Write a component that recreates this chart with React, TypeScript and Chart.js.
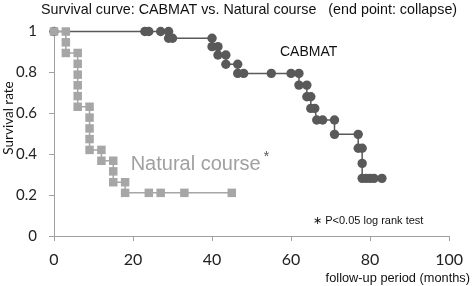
import React, { useEffect, useRef } from "react";
import { Chart, registerables } from "chart.js";

Chart.register(...registerables);

const titleText = "Survival curve: CABMAT vs. Natural course   (end point: collapse)";
const yAxisTitle = "Survival rate";
const xAxisTitle = "follow-up period (months)";
const cabLabel = "CABMAT";
const natLabel = "Natural course";
const noteText = "\u2217 P<0.05 log rank test";

const xTicks = [0, 20, 40, 60, 80, 100];
const yTicks = [0, 0.2, 0.4, 0.6, 0.8, 1];

// Natural course (step vertices, marker at each)
const natMonths = [0, 3, 3, 3, 6, 6, 6, 6, 6, 6, 9, 9, 9, 9, 9, 12, 12, 15, 15, 15, 18, 18, 24, 27, 33, 45];
const natSurvival = [1, 1, 0.947, 0.895, 0.895, 0.842, 0.789, 0.737, 0.684, 0.632, 0.632, 0.579, 0.526, 0.474, 0.421, 0.421, 0.368, 0.368, 0.316, 0.263, 0.263, 0.211, 0.211, 0.211, 0.211, 0.211];

// CABMAT (step vertices, marker at each)
const cabMonths = [0, 23, 24, 27, 29, 29, 30, 40, 40, 41.5, 41.5, 43.5, 43.5, 46.5, 46.5, 48, 55, 60, 62, 62, 64, 64, 65, 65, 66, 66.5, 68, 71, 71, 77, 77, 78, 78, 78, 79, 80, 81, 83];
const cabSurvival = [1, 1, 1, 1, 1, 0.967, 0.967, 0.967, 0.926, 0.926, 0.885, 0.885, 0.84, 0.84, 0.795, 0.795, 0.795, 0.795, 0.795, 0.738, 0.738, 0.681, 0.681, 0.624, 0.624, 0.567, 0.567, 0.567, 0.497, 0.497, 0.429, 0.429, 0.355, 0.282, 0.282, 0.282, 0.282, 0.282];

const toPoints = (xs: number[], ys: number[]) => xs.map((x, i) => ({ x, y: ys[i] }));

export default function App() {
  const ref = useRef<HTMLCanvasElement | null>(null);
  useEffect(() => {
    if (!ref.current) return;
    const textPlugin = {
      id: "texts",
      afterDraw(chart: any) {
        const ctx = chart.ctx;
        const xs = chart.scales.x;
        const ys = chart.scales.y;
        ctx.save();
        ctx.textBaseline = "middle";
        ctx.textAlign = "left";
        ctx.fillStyle = "#111";
        ctx.font = '14.3px "Liberation Sans"';
        ctx.fillText(titleText, 41, 10);

        ctx.font = '14px "Liberation Sans"';
        ctx.fillStyle = "#111";
        ctx.fillText(cabLabel, xs.getPixelForValue(57.2), ys.getPixelForValue(0.9));

        ctx.textBaseline = "alphabetic";
        ctx.font = '20px "Liberation Sans"';
        ctx.fillStyle = "#a0a0a0";
        const nx = xs.getPixelForValue(19.4);
        const ny = ys.getPixelForValue(0.323);
        ctx.fillText(natLabel, nx, ny);
        const w = ctx.measureText(natLabel).width;
        ctx.fillStyle = "#555";
        ctx.font = '14px "Liberation Sans"';
        ctx.fillText("*", nx + w + 3, ny - 9);

        ctx.textBaseline = "middle";
        ctx.fillStyle = "#111";
        ctx.font = '11px "Liberation Sans"';
        ctx.fillText(noteText, xs.getPixelForValue(65.6), ys.getPixelForValue(0.075));

        ctx.textAlign = "right";
        ctx.font = '12.8px "Liberation Sans"';
        ctx.fillText(xAxisTitle, 470, 278);

        ctx.translate(9, 118);
        ctx.rotate(-Math.PI / 2);
        ctx.textAlign = "center";
        ctx.font = '13.5px "Lato"';
        ctx.fillText(yAxisTitle, 0, 0);
        ctx.restore();
      },
    };
    const chart = new Chart(ref.current, {
      type: "scatter",
      data: {
        datasets: [
          {
            label: natLabel,
            data: toPoints(natMonths, natSurvival),
            showLine: true,
            borderColor: "#a6a6a6",
            backgroundColor: "#a6a6a6",
            borderWidth: 1.5,
            pointStyle: "rect",
            pointRadius: 6,
            pointBorderWidth: 0,
            clip: false,
            order: 0,
          },
          {
            label: cabLabel,
            data: toPoints(cabMonths, cabSurvival),
            showLine: true,
            borderColor: "#595959",
            backgroundColor: "#595959",
            borderWidth: 1.5,
            pointStyle: "circle",
            pointRadius: 4.7,
            pointBorderWidth: 0,
            clip: false,
            order: 1,
          },
        ],
      },
      options: {
        animation: false,
        responsive: false,
        layout: { padding: { top: 31.5, right: 17, left: 0, bottom: 0 } },
        plugins: { legend: { display: false }, tooltip: { enabled: false }, title: { display: false } },
        scales: {
          x: {
            type: "linear",
            min: 0,
            max: 100,
            afterFit: (s: any) => { s.height = 50; },
            afterBuildTicks: (s: any) => { s.ticks = xTicks.map((v) => ({ value: v })); },
            grid: { display: true, drawOnChartArea: false, drawTicks: true, tickLength: 5, color: "#a0a0a0" },
            border: { display: true, color: "#a0a0a0", width: 1 },
            ticks: { color: "#222", font: { family: "Lato", size: 16 }, padding: 9, maxRotation: 0, callback: (v: any) => String(v) },
          },
          y: {
            type: "linear",
            min: 0,
            max: 1,
            afterFit: (s: any) => { s.width = 54; },
            afterBuildTicks: (s: any) => { s.ticks = yTicks.map((v) => ({ value: v })); },
            grid: { display: true, drawOnChartArea: false, drawTicks: true, tickLength: 5, color: "#a0a0a0" },
            border: { display: true, color: "#a0a0a0", width: 1 },
            ticks: { color: "#222", font: { family: "Lato", size: 15 }, padding: 12, callback: (v: any) => String(+Number(v).toFixed(1)) },
          },
        },
      },
      plugins: [textPlugin],
    });
    return () => chart.destroy();
  }, []);
  return (
    <div style={{ position: "absolute", left: 0, top: 0, width: 472, height: 286, background: "#fff" }}>
      <canvas ref={ref} width={472} height={286} style={{ display: "block" }} />
    </div>
  );
}
